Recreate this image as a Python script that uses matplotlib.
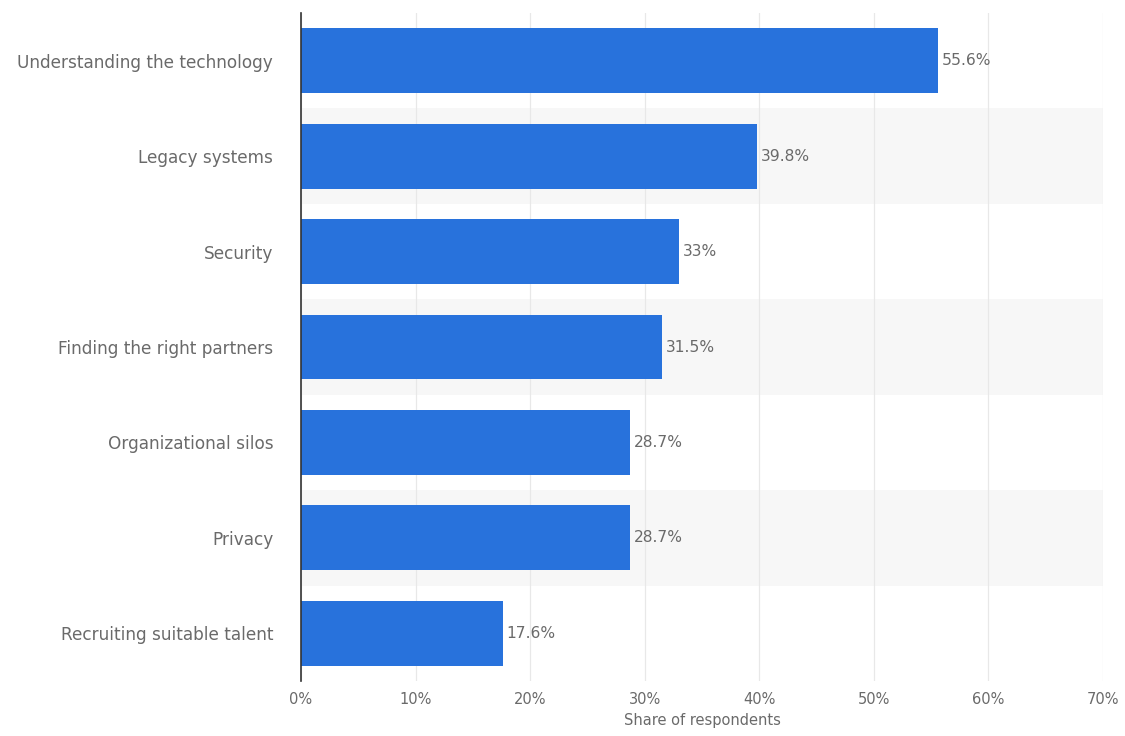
import matplotlib.pyplot as plt
import numpy as np

# Challenges reported by respondents (top to bottom)
categories = [
    "Understanding the technology",
    "Legacy systems",
    "Security",
    "Finding the right partners",
    "Organizational silos",
    "Privacy",
    "Recruiting suitable talent",
]
shares = [55.6, 39.8, 33, 31.5, 28.7, 28.7, 17.6]
value_labels = ["55.6%", "39.8%", "33%", "31.5%", "28.7%", "28.7%", "17.6%"]
x_ticks = [0, 10, 20, 30, 40, 50, 60, 70]

bar_color = "#2872dc"
text_color = "#6a6a6a"

fig = plt.figure(figsize=(11.25, 7.36), dpi=100)
ax = fig.add_axes([301 / 1125, 1 - 681 / 736, 802 / 1125, 668 / 736])

y = np.arange(len(categories))

# alternating light row bands
for i in y:
    if i % 2 == 1:
        ax.axhspan(i - 0.5, i + 0.5, color="#f7f7f7", zorder=0, lw=0)

ax.barh(y, shares, height=0.68, color=bar_color, zorder=3)

for yi, v, lab in zip(y, shares, value_labels):
    ax.text(v + 0.35, yi, lab, va="center", ha="left", fontsize=11.2,
            color=text_color, zorder=4)

ax.set_xlim(0, 70)
ax.set_ylim(len(categories) - 0.5, -0.5)
ax.set_yticks(y)
ax.set_yticklabels(categories, fontsize=12.2, color=text_color)
ax.set_xticks(x_ticks)
ax.set_xticklabels([f"{t}%" for t in x_ticks], fontsize=10.5, color=text_color)
ax.tick_params(axis="both", length=0)
ax.tick_params(axis="y", pad=20)
ax.tick_params(axis="x", pad=8)

ax.xaxis.grid(True, color="#e8e8e8", lw=0.9, zorder=1)
ax.set_axisbelow(True)

for side in ["top", "right", "bottom"]:
    ax.spines[side].set_visible(False)
ax.spines["left"].set_color("#333333")
ax.spines["left"].set_linewidth(1.2)
ax.spines["left"].set_zorder(5)

ax.set_xlabel("Share of respondents", fontsize=10.5, color=text_color, labelpad=4)

fig.savefig("out.png", dpi=100)
